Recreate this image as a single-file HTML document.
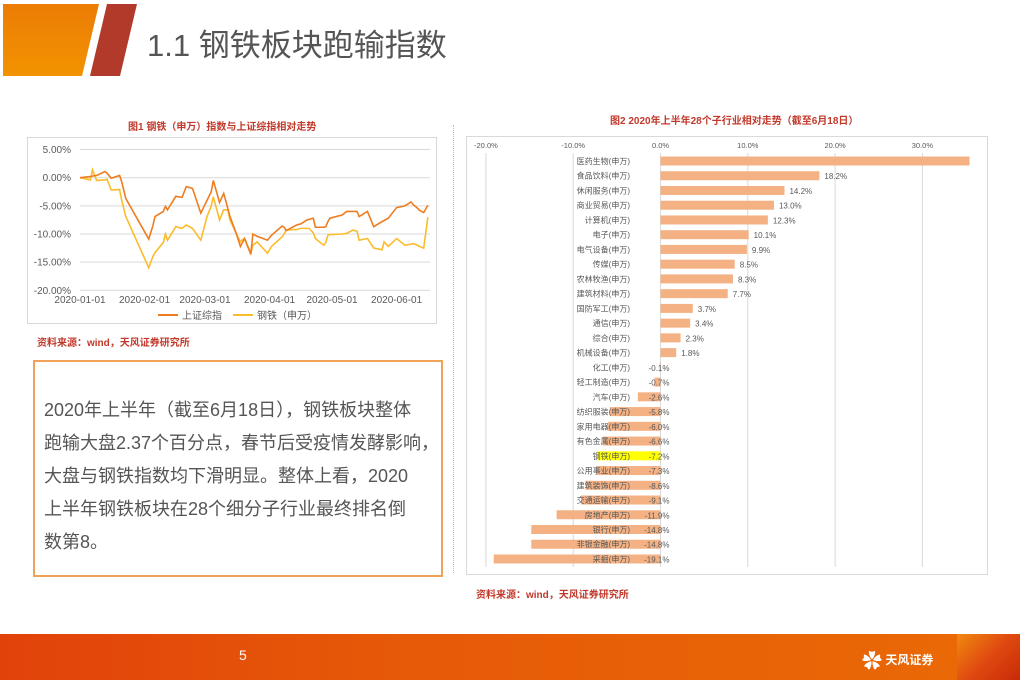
<!DOCTYPE html>
<html><head><meta charset="utf-8">
<style>
*{margin:0;padding:0;box-sizing:border-box}
body{width:1020px;height:680px;position:relative;background:#fff;overflow:hidden;font-family:"Liberation Sans","Noto Sans CJK SC",sans-serif}
.abs{position:absolute}
.ctitle{color:#c0392b;font-weight:bold;font-size:10px;white-space:nowrap}
</style></head><body>
<svg class="abs" style="left:0;top:0" width="150" height="80">
<defs><linearGradient id="og" x1="0" y1="0" x2="0" y2="1"><stop offset="0" stop-color="#ec7c05"/><stop offset="1" stop-color="#f29300"/></linearGradient></defs>
<polygon points="3,4 99,4 82,76 3,76" fill="url(#og)"/>
<polygon points="107,4 137,4 120,76 90,76" fill="#b23a2b"/>
</svg>
<div class="abs" style="left:147px;top:20px;font-size:31px;color:#555;white-space:nowrap">1.1 钢铁板块跑输指数</div>

<div class="abs ctitle" style="left:128px;top:118px">图1 钢铁（申万）指数与上证综指相对走势</div>
<svg class="abs" style="left:0;top:0" width="460" height="340" id="c1"></svg>
<div class="abs ctitle" style="left:37px;top:334px">资料来源：wind，天风证券研究所</div>

<div class="abs" style="left:33px;top:360px;width:410px;height:217px;border:2px solid #f0a25a;padding:32px 0 0 9px;font-size:18px;line-height:33px;color:#555;white-space:nowrap">2020年上半年（截至6月18日），钢铁板块整体<br>跑输大盘2.37个百分点，春节后受疫情发酵影响，<br>大盘与钢铁指数均下滑明显。整体上看，2020<br>上半年钢铁板块在28个细分子行业最终排名倒<br>数第8。</div>

<div class="abs" style="left:453px;top:125px;height:448px;border-left:1px dotted #bbb"></div>

<div class="abs ctitle" style="left:610px;top:112px">图2 2020年上半年28个子行业相对走势（截至6月18日）</div>
<svg class="abs" style="left:0;top:0" width="1020" height="600" id="c2"></svg>
<div class="abs ctitle" style="left:476px;top:586px">资料来源：wind，天风证券研究所</div>

<div class="abs" style="left:0;top:634px;width:1020px;height:46px;background:linear-gradient(90deg,#e2420a,#e65a08 40%,#ea6a05)"></div>
<div class="abs" style="left:957px;top:634px;width:63px;height:46px;background:linear-gradient(135deg,#f08a10,#e04a10 50%,#c82a08)"></div>
<div class="abs" style="left:239px;top:647px;color:#fff;font-size:14px">5</div>
<div class="abs" style="left:862px;top:645px;color:#fff;white-space:nowrap">
<span style="font-size:20px;vertical-align:middle">✿</span><span style="font-size:12px;font-weight:bold;vertical-align:middle"> 天风证券</span></div>

<script>
// Chart 1 data
const days=[0,5,6,8,12,13,15,19,20,22,33,35,36,40,41,42,46,49,51,54,58,61,63,64,67,69,71,72,75,77,78,79,82,83,85,90,92,97,98,99,104,106,109,110,112,113,117,118,119,120,126,128,131,133,134,138,141,145,146,148,152,156,159,160,162,163,165,167];
const szzs=[0,0.2,0.3,0.4,1.1,0.8,-0.1,0.4,-0.7,-3.7,-10.9,-8.5,-6.9,-6.0,-5.1,-5.7,-3.3,-3.5,-1.6,-1.9,-6.3,-4.0,-2.5,-0.5,-4.4,-2.8,-5.5,-6.9,-9.9,-12.2,-11.5,-10.8,-13.6,-10.0,-10.4,-11.1,-10.2,-8.6,-8.8,-9.4,-8.4,-8.2,-7.5,-7.4,-7.2,-8.8,-8.8,-8.7,-7.8,-7.2,-6.6,-6.0,-6.0,-6.0,-6.9,-6.0,-8.7,-7.8,-7.6,-7.2,-5.3,-5.0,-4.3,-4.8,-5.4,-5.8,-6.2,-4.9];
const steel=[0,-0.4,1.4,-0.5,-0.4,-0.3,-2.2,-2.1,-4.0,-6.9,-16.0,-14.0,-13.3,-11.5,-10.0,-11.1,-8.7,-9.0,-8.4,-9.0,-11.1,-6.9,-5.0,-3.4,-7.5,-5.7,-5.7,-7.5,-9.9,-11.4,-11.0,-10.8,-13.4,-12.0,-11.4,-13.4,-12.2,-10.5,-10.0,-9.3,-9.2,-9.0,-9.0,-9.0,-9.8,-10.8,-12.0,-11.5,-10.2,-10.1,-10.0,-9.9,-9.3,-9.5,-11.1,-10.8,-12.5,-12.8,-11.4,-12.2,-10.8,-12.0,-11.8,-11.7,-12.0,-12.2,-12.5,-7.0];
const yTicks=[5,0,-5,-10,-15,-20];
const yTickLabels=["5.00%","0.00%","-5.00%","-10.00%","-15.00%","-20.00%"];
const xTickDays=[0,31,60,91,121,152];
const xTickLabels=["2020-01-01","2020-02-01","2020-03-01","2020-04-01","2020-05-01","2020-06-01"];

// Chart 2 data
const categories=["医药生物(申万)","食品饮料(申万)","休闲服务(申万)","商业贸易(申万)","计算机(申万)","电子(申万)","电气设备(申万)","传媒(申万)","农林牧渔(申万)","建筑材料(申万)","国防军工(申万)","通信(申万)","综合(申万)","机械设备(申万)","化工(申万)","轻工制造(申万)","汽车(申万)","纺织服装(申万)","家用电器(申万)","有色金属(申万)","钢铁(申万)","公用事业(申万)","建筑装饰(申万)","交通运输(申万)","房地产(申万)","银行(申万)","非银金融(申万)","采掘(申万)"];
const values=[35.4,18.2,14.2,13.0,12.3,10.1,9.9,8.5,8.3,7.7,3.7,3.4,2.3,1.8,-0.1,-0.7,-2.6,-5.8,-6.0,-6.6,-7.2,-7.3,-8.6,-9.1,-11.9,-14.8,-14.8,-19.1];
const valueLabels=["","18.2%","14.2%","13.0%","12.3%","10.1%","9.9%","8.5%","8.3%","7.7%","3.7%","3.4%","2.3%","1.8%","-0.1%","-0.7%","-2.6%","-5.8%","-6.0%","-6.6%","-7.2%","-7.3%","-8.6%","-9.1%","-11.9%","-14.8%","-14.8%","-19.1%"];
const xTicks2=[-20,-10,0,10,20,30];
const xTickLabels2=["-20.0%","-10.0%","0.0%","10.0%","20.0%","30.0%"];

const NS="http://www.w3.org/2000/svg";
function mk(p,t,a){const e=document.createElementNS(NS,t);for(const k in a)e.setAttribute(k,a[k]);p.appendChild(e);return e;}

// ---- Chart 1
const c1=document.getElementById('c1');
const X1=d=>80+d*2.083, Y1=v=>177.7-v*5.63;
let box=mk(c1,'rect',{x:27.5,y:137.5,width:409,height:186,fill:'none',stroke:'#d9d9d9'});

yTicks.forEach((v,i)=>{
 let g=mk(c1,'line',{x1:80,x2:430,y1:Y1(v),y2:Y1(v),stroke:'#d9d9d9','stroke-width':1});
 
 let t=mk(c1,'text',{x:71,y:Y1(v)+3.5,'text-anchor':'end','font-size':10,fill:'#595959'});t.textContent=yTickLabels[i];
 
});
xTickDays.forEach((d,i)=>{
 let t=mk(c1,'text',{x:X1(d),y:303,'text-anchor':'middle','font-size':10,fill:'#595959'});t.textContent=xTickLabels[i];
 
});
function line(arr,col,name){
 let p=mk(c1,'polyline',{points:arr.map((v,i)=>X1(days[i])+','+Y1(v)).join(' '),fill:'none',stroke:col,'stroke-width':1.6});
 
}
line(steel,'#fbbc2c','series-steel');
line(szzs,'#ee7d22','series-szzs');
[[158,'#ee7d22','上证综指','legend-szzs'],[233,'#fbbc2c','钢铁（申万）','legend-steel']].forEach(l=>{
 let g=mk(c1,'g',{});
 mk(g,'line',{x1:l[0],x2:l[0]+20,y1:315,y2:315,stroke:l[1],'stroke-width':2});
 let t=mk(g,'text',{x:l[0]+24,y:319,'font-size':10,fill:'#595959'});t.textContent=l[2];
});

// ---- Chart 2
const c2=document.getElementById('c2');
const X2=v=>660.5+v*8.73, Y2=i=>161+i*14.74;
let b2=mk(c2,'rect',{x:466.5,y:136.5,width:521,height:438,fill:'none',stroke:'#d9d9d9'});

xTicks2.forEach((v,i)=>{
 let g=mk(c2,'line',{x1:X2(v),x2:X2(v),y1:153,y2:567,stroke:'#d9d9d9'});
 
 let t=mk(c2,'text',{x:X2(v),y:148,'text-anchor':'middle','font-size':7.5,fill:'#595959'});t.textContent=xTickLabels2[i];
 
});
values.forEach((v,i)=>{
 let x0=Math.min(X2(0),X2(v)),w=Math.abs(X2(v)-X2(0));
 let r=mk(c2,'rect',{x:x0,y:Y2(i)-4.5,width:w,height:9,fill:categories[i].startsWith('钢铁')?'#ffff00':'#f4b183'});
 
});
values.forEach((v,i)=>{
 let t=mk(c2,'text',{x:630,y:Y2(i)+3,'text-anchor':'end','font-size':8,fill:'#595959'});t.textContent=categories[i];
 
 let vl=mk(c2,'text',{x:v>=0?X2(v)+5:X2(0)+9,y:Y2(i)+3.5,'text-anchor':v>=0?'start':'end','font-size':8,fill:'#595959'});vl.textContent=valueLabels[i];
 
});
</script>
</body></html>
